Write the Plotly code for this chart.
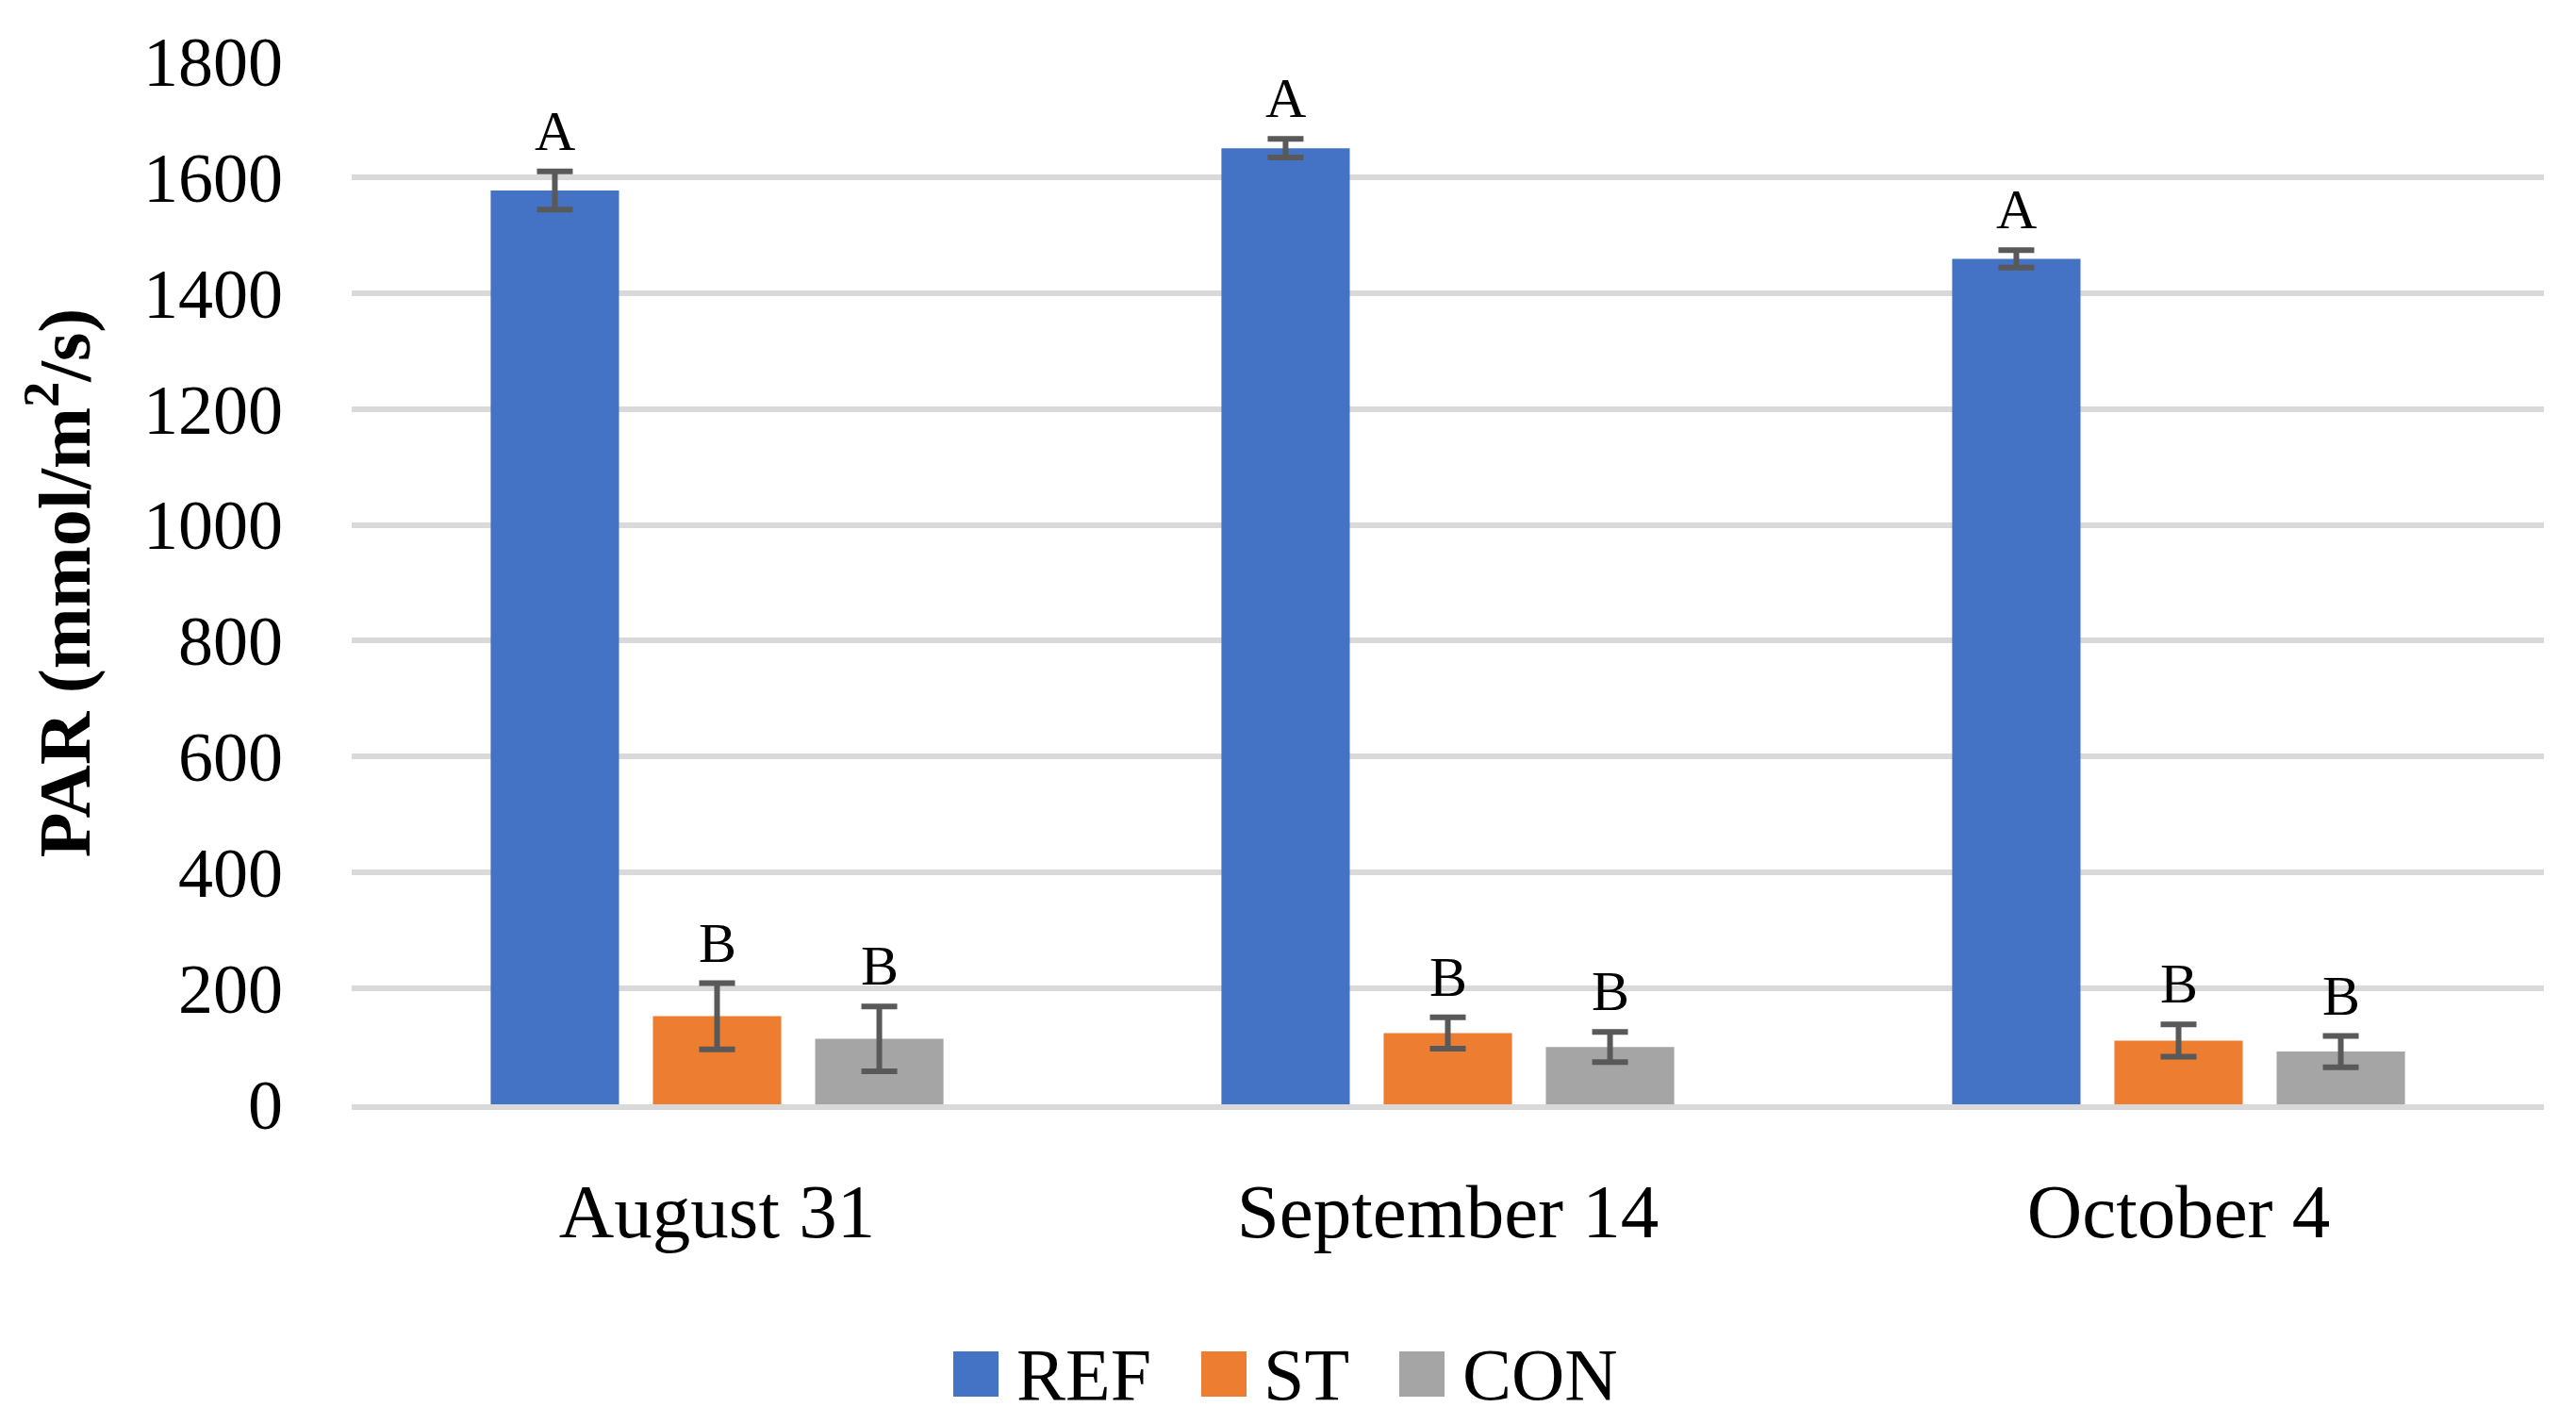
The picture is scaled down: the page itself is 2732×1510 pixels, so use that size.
import plotly.graph_objects as go

# chart values
DATES = ['August 31', 'September 14', 'October 4']
SERIES = ['REF', 'ST', 'CON']
REF_VALUES = [1577, 1650, 1459]
REF_ERRORS = [33, 16, 15]
ST_VALUES = [152, 123, 110]
ST_ERRORS = [57, 27, 28]
CON_VALUES = [113, 99, 91]
CON_ERRORS = [56, 26, 27]
REF_LETTERS = ['A', 'A', 'A']
ST_LETTERS = ['B', 'B', 'B']
CON_LETTERS = ['B', 'B', 'B']
Y_TICKS = [0, 200, 400, 600, 800, 1000, 1200, 1400, 1600, 1800]

COLORS = {'REF': '#4472C4', 'ST': '#ED7D31', 'CON': '#A5A5A5'}
FONT = 'Liberation Serif, Times New Roman, serif'

# the page body keeps its default 8px margin, so the figure is sized to fit inside it
BODY = 8
W, H = 2732 - 2 * BODY, 1510 - 2 * BODY
MARGIN = dict(l=373 - BODY, r=W - (2698 - BODY), t=65 - BODY, b=H - (1171 - BODY))


def px_to_paper_x(px):
    return (px - BODY - MARGIN['l']) / (W - MARGIN['l'] - MARGIN['r'])


def px_to_paper_y(py):
    return (H - MARGIN['b'] - (py - BODY)) / (H - MARGIN['t'] - MARGIN['b'])


def build_figure() -> go.Figure:
    fig = go.Figure()
    data = [
        ('REF', REF_VALUES, REF_ERRORS, REF_LETTERS),
        ('ST', ST_VALUES, ST_ERRORS, ST_LETTERS),
        ('CON', CON_VALUES, CON_ERRORS, CON_LETTERS),
    ]
    for name, values, errors, letters in data:
        fig.add_trace(go.Bar(
            x=DATES,
            y=values,
            name=name,
            marker=dict(color=COLORS[name], line=dict(width=0)),
            error_y=dict(type='data', array=errors, color='#595959', thickness=6, width=19),
            showlegend=False,
        ))

    fig.update_layout(
        width=W,
        height=H,
        barmode='group',
        bargap=0.334,
        bargroupgap=0.209,
        plot_bgcolor='white',
        paper_bgcolor='white',
        margin=MARGIN,
        font=dict(family=FONT, size=76, color='black'),
        showlegend=False,
    )
    fig.update_yaxes(
        range=[0, 1800],
        tickvals=Y_TICKS,
        showgrid=True,
        gridcolor='#D9D9D9',
        gridwidth=6,
        zeroline=False,
        showline=False,
        ticks='',
        ticklabelstandoff=72,
        tickfont=dict(family=FONT, size=74),
        title=dict(
            text='<b>PAR (mmol/m<sup>2</sup>/s)</b>',
            font=dict(family=FONT, size=78),
            standoff=30,
        ),
    )
    fig.update_xaxes(
        showline=True,
        linecolor='#D9D9D9',
        linewidth=6,
        ticks='',
        ticklabelstandoff=38,
        tickfont=dict(family=FONT, size=81),
    )

    # significance letters above each error bar
    slot_offsets = {'REF': -1, 'ST': 0, 'CON': 1}
    for name, values, errors, letters in data:
        for date, value, err, letter in zip(DATES, values, errors, letters):
            fig.add_annotation(
                x=date,
                y=value + err,
                xshift=slot_offsets[name] * 172,
                yshift=8,
                yanchor='bottom',
                text=letter,
                showarrow=False,
                font=dict(family=FONT, size=60, color='black'),
            )

    # legend with large colour squares, centred under the chart
    legend_items = [('REF', 1035, 1076), ('ST', 1298, 1338), ('CON', 1508, 1549)]
    legend_y = px_to_paper_y(1457)
    for name, square_x, text_x in legend_items:
        fig.add_shape(
            type='rect',
            xref='paper', yref='paper',
            xsizemode='pixel', ysizemode='pixel',
            xanchor=px_to_paper_x(square_x), yanchor=legend_y,
            x0=-24, x1=24, y0=-24, y1=24,
            fillcolor=COLORS[name],
            line=dict(width=0),
        )
        fig.add_annotation(
            xref='paper', yref='paper',
            x=px_to_paper_x(text_x), y=legend_y,
            xanchor='left', yanchor='middle',
            text=name,
            showarrow=False,
            font=dict(family=FONT, size=78, color='black'),
        )
    return fig


def main() -> None:
    fig = build_figure()
    fig.write_html('out.html')


if __name__ == '__main__':
    main()
